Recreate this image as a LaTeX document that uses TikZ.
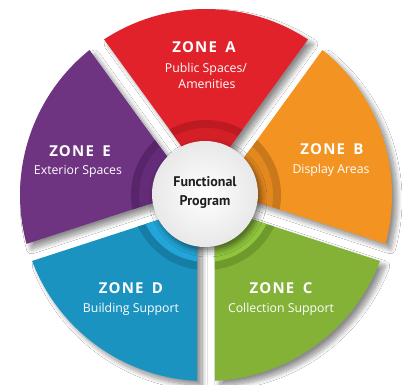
\documentclass[tikz,border=0pt]{standalone}
\usepackage{fontspec}
\setmainfont{Open Sans}
\newfontfamily\hubfont{PT Sans}
\usetikzlibrary{shadows.blur}

\definecolor{zoneA}{HTML}{E2222B}
\definecolor{zoneAdark}{HTML}{BE1A22}
\definecolor{zoneAmid}{HTML}{D41F27}
\definecolor{zoneB}{HTML}{F39321}
\definecolor{zoneBdark}{HTML}{C9791B}
\definecolor{zoneBmid}{HTML}{E2881F}
\definecolor{zoneC}{HTML}{83B236}
\definecolor{zoneCdark}{HTML}{6E9A2C}
\definecolor{zoneCmid}{HTML}{90C63E}
\definecolor{zoneD}{HTML}{1B93C0}
\definecolor{zoneDdark}{HTML}{167DA5}
\definecolor{zoneDmid}{HTML}{22A5D8}
\definecolor{zoneE}{HTML}{6E3381}
\definecolor{zoneEdark}{HTML}{58246A}
\definecolor{zoneEmid}{HTML}{642B78}
\definecolor{hubtext}{HTML}{1E1E1E}

\newcommand\zonename[1]{ZONE\hspace{0.22em} #1}

\tikzset{
  seg shadow/.style={blur shadow={shadow xshift=5pt, shadow yshift=-5pt,
      shadow blur radius=5pt, shadow opacity=45, shadow blur steps=12}},
  zonetitle/.style={text=white,
      font=\bfseries\fontsize{15}{18}\selectfont\addfontfeature{LetterSpace=8},
      anchor=base, inner sep=0pt},
  zonesub/.style={text=white, font=\fontsize{12.3}{15}\selectfont,
      anchor=base, inner sep=0pt},
  hublabel/.style={text=hubtext, font=\hubfont\bfseries\fontsize{14}{17}\selectfont,
      anchor=base, inner sep=0pt},
}

\begin{document}
\begin{tikzpicture}[x=1pt,y=1pt]
  % canvas
  \fill[white] (-206,-190) rectangle (206,195);
  \useasboundingbox (-206,-190) rectangle (206,195);

  % soft shadows of the five sectors, laid down first
  \foreach \c in {90,18,-54,-126,162} {
    \path[seg shadow] (\c:15.3) -- ({\c-33.23}:186)
      arc[start angle={\c-33.23}, end angle={\c+33.23}, radius=186pt] -- cycle;
  }

  % the sectors with their darker inner bands
  \foreach \c/\col in {90/zoneA,18/zoneB,-54/zoneC,-126/zoneD,162/zoneE} {
    \fill[\col] (\c:15.3) -- ({\c-33.23}:186)
      arc[start angle={\c-33.23}, end angle={\c+33.23}, radius=186pt] -- cycle;
    \begin{scope}
      \clip (\c:15.3) -- ({\c-33.23}:186)
        arc[start angle={\c-33.23}, end angle={\c+33.23}, radius=186pt] -- cycle;
      \fill[\col dark] (0,0) circle[radius=75pt];
      \fill[\col mid] (0,0) circle[radius=67pt];
    \end{scope}
  }

  % central hub
  \node[circle, minimum size=106pt, inner sep=0pt,
        shading=radial, inner color=white, outer color=black!9,
        blur shadow={shadow xshift=3pt, shadow yshift=-4pt,
          shadow blur radius=6pt, shadow opacity=50}]
        (hub) at (-1,1) {};
  \node[hublabel] (hubA) at (-1,8) {Functional};
  \node[hublabel] (hubB) at (-1,-11) {Program};

  % zone labels
  \node[zonetitle] (tA) at (-2,142.5) {\zonename{A}};
  \node[zonesub]   (sA1) at (0,122.5) {Public Spaces/};
  \node[zonesub]   (sA2) at (1,106) {Amenities};

  \node[zonetitle] (tB) at (126,40) {\zonename{B}};
  \node[zonesub]   (sB) at (125,21) {Display Areas};

  \node[zonetitle] (tC) at (75,-99) {\zonename{C}};
  \node[zonesub]   (sC) at (75,-118) {Collection Support};

  \node[zonetitle] (tD) at (-75,-99) {\zonename{D}};
  \node[zonesub]   (sD) at (-75,-118) {Building Support};

  \node[zonetitle] (tE) at (-126,38) {\zonename{E}};
  \node[zonesub]   (sE) at (-128,20) {Exterior Spaces};
\end{tikzpicture}
\end{document}
